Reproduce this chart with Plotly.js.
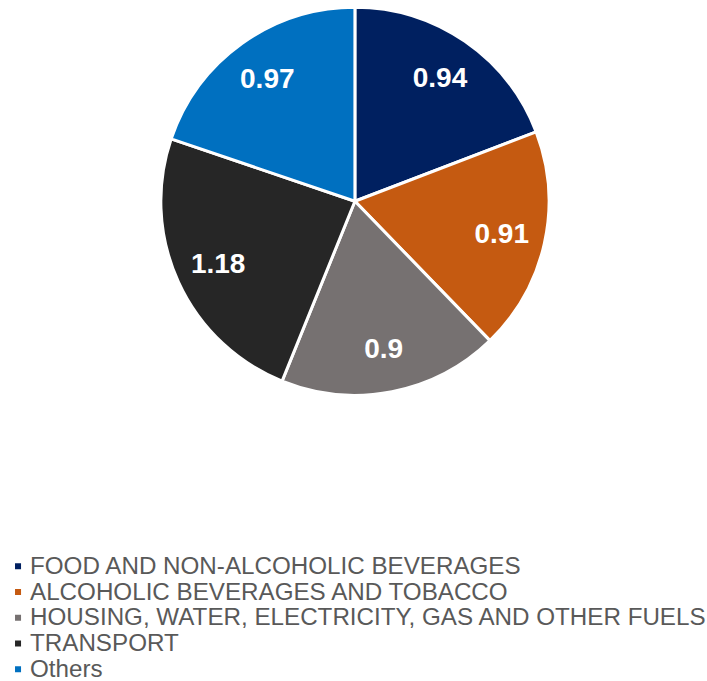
<!DOCTYPE html>
<html>
<head>
<meta charset="utf-8">
<script src="https://cdn.plot.ly/plotly-3.0.1.min.js"></script>
<style>
html,body{margin:0;padding:0;background:#fff;}
#chart{width:707px;height:681px;}
#chart .legendtext{font-size:24.2px !important;transform:translate(0px,1px);}
#chart .legendpie{transform:translate(28px,0px) scale(0.67);}
#chart .legend .scrollbox{clip-path:none !important;}
#chart .legend .scrollbar{display:none;}
</style>
</head>
<body>
<div id="chart"></div>
<script>
const categories = [
  "FOOD AND NON-ALCOHOLIC BEVERAGES",
  "ALCOHOLIC BEVERAGES AND TOBACCO",
  "HOUSING, WATER, ELECTRICITY, GAS AND OTHER FUELS",
  "TRANSPORT",
  "Others"
];
const values = [0.94, 0.91, 0.9, 1.18, 0.97];
const colors = ["#002060", "#C55A11", "#767171", "#262626", "#0070C0"];

const pieDomain = {x: [0.2275, 0.7765], y: [0.419, 0.990]};

// Filled pie with slices and legend
const slices = {
  type: "pie",
  labels: categories,
  values: values,
  sort: false,
  direction: "clockwise",
  rotation: 0,
  marker: {colors: colors, line: {color: "#ffffff", width: 3}},
  textinfo: "none",
  hoverinfo: "label+value",
  showlegend: true,
  domain: pieDomain
};

// Transparent ring on top that carries the value labels further out
const labelsRing = {
  type: "pie",
  labels: categories,
  values: values,
  sort: false,
  direction: "clockwise",
  rotation: 0,
  hole: 0.55,
  marker: {colors: colors.map(() => "rgba(0,0,0,0)"), line: {width: 0}},
  textinfo: "value",
  texttemplate: "%{value}",
  textposition: "inside",
  insidetextorientation: "horizontal",
  textfont: {family: "Liberation Sans, Arial, sans-serif", size: 28, color: "#ffffff", weight: "bold"},
  hoverinfo: "skip",
  showlegend: false,
  domain: pieDomain
};

const layout = {
  width: 707,
  height: 681,
  margin: {l: 0, r: 0, t: 0, b: 0, autoexpand: false},
  paper_bgcolor: "#ffffff",
  showlegend: true,
  legend: {
    x: -0.0141, y: 0.1949, xanchor: "left", yanchor: "top",
    font: {family: "Liberation Sans, Arial, sans-serif", size: 17.5, color: "#595959"},
    tracegroupgap: 0,
    itemclick: false
  },
  font: {family: "Liberation Sans, Arial, sans-serif"}
};

Plotly.newPlot("chart", [slices, labelsRing], layout, {displayModeBar: false, staticPlot: true});
</script>
</body>
</html>
